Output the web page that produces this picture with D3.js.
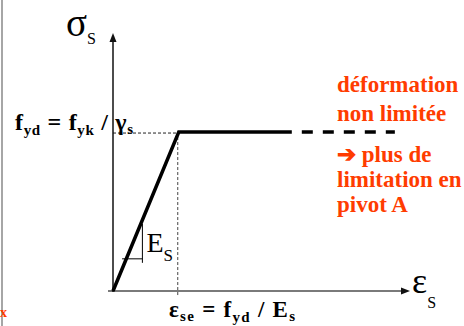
<!DOCTYPE html>
<html>
<head>
<meta charset="utf-8">
<script src="https://cdn.jsdelivr.net/npm/d3@7/dist/d3.min.js"></script>
<style>
  html, body { margin: 0; padding: 0; background: #fff; }
  svg { display: block; }
</style>
</head>
<body>
<svg id="chart" width="464" height="326"></svg>
<script>
// ---- data (strain in ‰, stress in MPa) ----
const strainSolid = [0, 2.17, 5.9];      // elastic branch + plateau (solid)
const stressSolid = [0, 435, 435];
const strainDashed = [5.9, 9.3];         // unlimited deformation (dashed)
const stressDashed = [435, 435];
const yieldStrain = 2.17;                // εse = fyd / Es
const yieldStress = 435;                 // fyd = fyk / γs
const slopeStrain = [0.3, 0.97];         // Es slope triangle (strain range)
const slopeStress = 88;                  // Es slope triangle base level
const labelsOrange = ["déformation", "non limitée", "➔ plus de", "limitation en", "pivot A"];

const FONT = "Liberation Serif";
const svg = d3.select("#chart").attr("font-family", FONT);
const orange = "#ff3c00";

const x = d3.scaleLinear().domain([0, 9.8]).range([113, 410]);
const y = d3.scaleLinear().domain([0, 706]).range([291, 33]);

// left border line
svg.append("line").attr("x1", 2).attr("x2", 2).attr("y1", 0).attr("y2", 326)
  .attr("stroke", "#888").attr("stroke-width", 1.5);
svg.append("text").attr("x", 0).attr("y", 317).attr("fill", orange)
  .attr("font-family", FONT).attr("font-weight", "bold").attr("font-size", 14).text("x");

// guide lines (dashed)
svg.append("line")
  .attr("x1", x(0)).attr("x2", x(yieldStrain))
  .attr("y1", y(yieldStress) + 1).attr("y2", y(yieldStress) + 1)
  .attr("stroke", "#222").attr("stroke-width", 1).attr("stroke-dasharray", "3,2");
svg.append("line")
  .attr("x1", x(yieldStrain) - 1).attr("x2", x(yieldStrain) - 1)
  .attr("y1", y(yieldStress)).attr("y2", y(0) + 5)
  .attr("stroke", "#444").attr("stroke-width", 1).attr("stroke-dasharray", "3,2");

// x axis (gray) with arrow
svg.append("line").attr("x1", x(0) - 5).attr("x2", x(9.8) - 6)
  .attr("y1", y(0)).attr("y2", y(0)).attr("stroke", "#7a7a7a").attr("stroke-width", 2);
svg.append("path")
  .attr("d", `M${x(9.8)},${y(0)} L${x(9.8) - 9},${y(0) - 3.5} L${x(9.8) - 9},${y(0) + 3.5} Z`)
  .attr("fill", "#111");

// y axis with arrow
svg.append("line").attr("x1", x(0)).attr("x2", x(0))
  .attr("y1", y(0) + 1).attr("y2", y(706) + 7).attr("stroke", "#111").attr("stroke-width", 1.5);
svg.append("path")
  .attr("d", `M${x(0)},${y(706)} L${x(0) - 3.5},${y(706) + 9} L${x(0) + 3.5},${y(706) + 9} Z`)
  .attr("fill", "#111");

// stress-strain curve
const line = d3.line().x(d => x(d[0])).y(d => y(d[1]));
svg.append("path")
  .datum(strainSolid.map((s, i) => [s, stressSolid[i]]))
  .attr("d", line).attr("fill", "none").attr("stroke", "#000")
  .attr("stroke-width", 3.5).attr("stroke-linejoin", "miter");
svg.append("path")
  .datum(strainDashed.map((s, i) => [s, stressDashed[i]]))
  .attr("d", line).attr("fill", "none").attr("stroke", "#000")
  .attr("stroke-width", 3.5).attr("stroke-dasharray", "11,10").attr("stroke-dashoffset", 11);

// Es slope triangle
const Es = yieldStress / yieldStrain;
svg.append("line").attr("x1", x(slopeStrain[0])).attr("x2", x(slopeStrain[1]))
  .attr("y1", y(slopeStress)).attr("y2", y(slopeStress))
  .attr("stroke", "#000").attr("stroke-width", 1);
svg.append("line").attr("x1", x(slopeStrain[1])).attr("x2", x(slopeStrain[1]))
  .attr("y1", y(Es * slopeStrain[1]) + 4).attr("y2", y(slopeStress) + 4)
  .attr("stroke", "#000").attr("stroke-width", 1);

// Es label
const esT = svg.append("text").attr("x", x(slopeStrain[1]) + 4).attr("y", 252)
  .attr("font-family", FONT).attr("font-size", 28);
esT.append("tspan").text("E");
esT.append("tspan").attr("font-size", 17).attr("dy", 9).text("S");

// sigma_s label
const sigT = svg.append("text").attr("x", 66).attr("y", 35.5)
  .attr("font-family", FONT).attr("font-size", 39);
sigT.append("tspan").text("σ");
sigT.append("tspan").attr("font-size", 16).attr("dy", 8).text("S");

// epsilon_s label
const epsT = svg.append("text").attr("x", x(9.8) + 2).attr("y", 293)
  .attr("font-family", FONT).attr("font-size", 36);
epsT.append("tspan").text("ε");
epsT.append("tspan").attr("font-size", 16).attr("dy", 15).text("S");

// fyd label
const fT = svg.append("text").attr("x", 15).attr("y", y(yieldStress) - 2)
  .attr("font-family", FONT)
  .attr("font-size", 24).attr("font-weight", "bold")
  .attr("textLength", 118).attr("lengthAdjust", "spacing");
fT.append("tspan").text("f");
fT.append("tspan").attr("font-size", 15).attr("dy", 5).text("yd");
fT.append("tspan").attr("dy", -5).text(" = f");
fT.append("tspan").attr("font-size", 15).attr("dy", 5).text("yk");
fT.append("tspan").attr("dy", -5).text(" / γ");
fT.append("tspan").attr("font-size", 15).attr("dy", 4).text("s");

// eps_se label
const eT = svg.append("text").attr("x", 169).attr("y", 317)
  .attr("font-family", FONT)
  .attr("font-size", 23).attr("font-weight", "bold")
  .attr("textLength", 126).attr("lengthAdjust", "spacing");
eT.append("tspan").text("ε");
eT.append("tspan").attr("font-size", 15).attr("dy", 4).text("se");
eT.append("tspan").attr("dy", -4).text(" = f");
eT.append("tspan").attr("font-size", 15).attr("dy", 5).text("yd");
eT.append("tspan").attr("dy", -5).text(" / E");
eT.append("tspan").attr("font-size", 15).attr("dy", 4).text("s");

// orange annotations
const orangeY = [92, 121, 162, 187, 212];
svg.selectAll(".orange")
  .data(labelsOrange)
  .join("text")
  .attr("class", "orange")
  .attr("x", 337)
  .attr("y", (d, i) => orangeY[i])
  .attr("font-family", FONT)
  .attr("font-size", 23)
  .attr("font-weight", "bold")
  .attr("fill", orange)
  .text(d => d);
</script>
</body>
</html>
